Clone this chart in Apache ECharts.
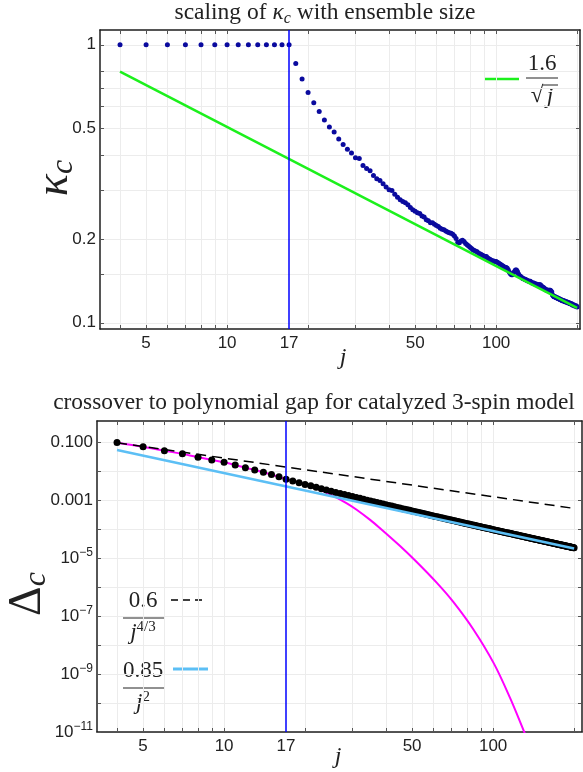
<!DOCTYPE html>
<html>
<head>
<meta charset="utf-8">
<script src="https://cdn.jsdelivr.net/npm/echarts@6/dist/echarts.min.js"></script>
<style>
  html, body { margin: 0; padding: 0; background: #ffffff; }
  #chart { width: 583px; height: 772px; }
</style>
</head>
<body>
<div id="chart"></div>
<script>
// Ensemble sizes run over integers j = 4 ... 200
const J_FIRST = 4;

// Critical coupling kappa_c for each ensemble size (j = 4 ... 200)
const kappaC = [
  1, 1, 1, 1, 1, 1, 1, 1, 1, 1, 1, 1, 1, 1,
  0.856, 0.753, 0.674, 0.618, 0.575, 0.536, 0.506, 0.486, 0.458, 0.438,
  0.421, 0.408, 0.392, 0.390, 0.368, 0.359, 0.352, 0.339, 0.330, 0.325,
  0.316, 0.308, 0.301, 0.299, 0.290, 0.283, 0.277, 0.273, 0.270, 0.266,
  0.260, 0.255, 0.252, 0.249, 0.247, 0.242, 0.240, 0.235, 0.233, 0.229,
  0.229, 0.226, 0.224, 0.222, 0.219, 0.217, 0.216, 0.214, 0.212, 0.211,
  0.210, 0.208, 0.205, 0.201, 0.195, 0.194, 0.197, 0.198, 0.196, 0.193,
  0.191, 0.189, 0.187, 0.185, 0.183, 0.182, 0.181, 0.180, 0.178, 0.177,
  0.176, 0.175, 0.174, 0.173, 0.173, 0.171, 0.170, 0.169, 0.168, 0.167,
  0.167, 0.166, 0.166, 0.165, 0.164, 0.163, 0.162, 0.161, 0.160, 0.159,
  0.158, 0.158, 0.157, 0.155, 0.152, 0.150, 0.149, 0.149, 0.151, 0.153,
  0.155, 0.155, 0.153, 0.150, 0.148, 0.147, 0.146, 0.145, 0.144, 0.144,
  0.143, 0.143, 0.142, 0.142, 0.141, 0.141, 0.141, 0.140, 0.139, 0.139,
  0.139, 0.138, 0.138, 0.138, 0.137, 0.137, 0.137, 0.137, 0.137, 0.136,
  0.135, 0.134, 0.134, 0.133, 0.132, 0.132, 0.131, 0.131, 0.131, 0.131,
  0.131, 0.131, 0.130, 0.129, 0.126, 0.125, 0.124, 0.124, 0.124, 0.123,
  0.123, 0.123, 0.122, 0.122, 0.122, 0.121, 0.121, 0.121, 0.120, 0.120,
  0.120, 0.120, 0.119, 0.119, 0.119, 0.119, 0.118, 0.118, 0.118, 0.118,
  0.117, 0.117, 0.117, 0.117, 0.116, 0.116, 0.116, 0.116, 0.115, 0.115,
  0.115, 0.115, 0.114
];

// Power-law guide 1.6/sqrt(j), end points
const kappaFit = [[4, 0.8], [200, 0.1131]];

// Gap Delta_c for each ensemble size (j = 4 ... 200)
const gapC = [
  0.097, 0.069, 0.050, 0.039, 0.030, 0.024, 0.020, 0.016, 0.013, 0.0108,
  0.0091, 0.0076, 0.0063, 0.0052, 0.0045, 0.0039, 0.00345, 0.0031, 0.00275, 0.00245,
  0.0022, 0.0020,
  1.83e-3, 1.67e-3, 1.54e-3, 1.42e-3, 1.32e-3, 1.22e-3, 1.14e-3, 1.06e-3, 9.90e-4, 9.27e-4,
  8.70e-4, 8.18e-4, 7.71e-4, 7.27e-4, 6.88e-4, 6.51e-4, 6.17e-4, 5.85e-4, 5.56e-4, 5.29e-4,
  5.04e-4, 4.81e-4, 4.59e-4, 4.39e-4, 4.20e-4, 4.02e-4, 3.85e-4, 3.70e-4, 3.55e-4, 3.41e-4,
  3.28e-4, 3.16e-4, 3.04e-4, 2.93e-4, 2.82e-4, 2.72e-4, 2.63e-4, 2.54e-4, 2.46e-4, 2.38e-4,
  2.30e-4, 2.23e-4, 2.16e-4, 2.09e-4, 2.03e-4, 1.97e-4, 1.91e-4, 1.85e-4, 1.80e-4, 1.75e-4,
  1.70e-4, 1.65e-4, 1.61e-4, 1.56e-4, 1.52e-4, 1.48e-4, 1.45e-4, 1.41e-4, 1.37e-4, 1.34e-4,
  1.31e-4, 1.27e-4, 1.24e-4, 1.21e-4, 1.19e-4, 1.16e-4, 1.13e-4, 1.11e-4, 1.08e-4, 1.06e-4,
  1.035e-4, 1.013e-4, 9.91e-5, 9.70e-5, 9.50e-5, 9.30e-5, 9.11e-5, 8.93e-5, 8.75e-5, 8.57e-5,
  8.40e-5, 8.24e-5, 8.08e-5, 7.93e-5, 7.78e-5, 7.63e-5, 7.49e-5, 7.35e-5, 7.22e-5, 7.08e-5,
  6.96e-5, 6.83e-5, 6.71e-5, 6.60e-5, 6.48e-5, 6.37e-5, 6.26e-5, 6.16e-5, 6.05e-5, 5.95e-5,
  5.85e-5, 5.76e-5, 5.66e-5, 5.57e-5, 5.48e-5, 5.40e-5, 5.31e-5, 5.23e-5, 5.15e-5, 5.07e-5,
  4.99e-5, 4.92e-5, 4.84e-5, 4.77e-5, 4.70e-5, 4.63e-5, 4.56e-5, 4.50e-5, 4.43e-5, 4.37e-5,
  4.31e-5, 4.25e-5, 4.19e-5, 4.13e-5, 4.07e-5, 4.02e-5, 3.96e-5, 3.91e-5, 3.86e-5, 3.81e-5,
  3.76e-5, 3.71e-5, 3.66e-5, 3.61e-5, 3.56e-5, 3.52e-5, 3.47e-5, 3.43e-5, 3.39e-5, 3.34e-5,
  3.30e-5, 3.26e-5, 3.22e-5, 3.18e-5, 3.14e-5, 3.11e-5, 3.07e-5, 3.03e-5, 3.00e-5, 2.96e-5,
  2.93e-5, 2.89e-5, 2.86e-5, 2.83e-5, 2.79e-5, 2.76e-5, 2.73e-5, 2.70e-5, 2.67e-5, 2.64e-5,
  2.61e-5, 2.58e-5, 2.56e-5, 2.53e-5, 2.50e-5, 2.47e-5, 2.45e-5, 2.42e-5, 2.40e-5, 2.37e-5,
  2.35e-5, 2.32e-5, 2.30e-5, 2.27e-5, 2.25e-5
];

// Exponential-regime curve through the small-j gaps
const gapExpCurve = [
  [4, 0.095], [5, 0.069], [6, 0.050], [7, 0.039], [8, 0.030], [10, 0.020],
  [12, 0.0129], [14, 0.0091], [17, 0.00525], [20, 0.00347], [22, 0.00254],
  [24.8, 0.00157], [28.6, 7.71e-4], [31.1, 4.62e-4], [34.9, 2.07e-4], [37.9, 1.09e-4],
  [45.1, 2.60e-5], [52, 7.29e-6], [61.8, 1.39e-6], [71, 3.13e-7], [84.5, 3.44e-8],
  [100.5, 2.37e-9], [115.5, 1.53e-10], [130, 1.10e-11], [134, 5.5e-12]
];

// Power-law guides 0.6/j^(4/3) and 0.85/j^2, end points
const gapFit43 = [[4, 0.0945], [200, 5.13e-4]];
const gapFit2 = [[4, 0.0531], [200, 2.125e-5]];

// Crossover ensemble size
const crossoverJ = 17;

// Axis ticks and labels
const jTicks = [4, 5, 6, 7, 8, 9, 10, 20, 30, 40, 50, 60, 70, 80, 90, 100, 200];
const jLabels = [5, 10, 17, 50, 100];
const kappaTicks = [0.1, 0.15, 0.2, 0.3, 0.4, 0.5, 0.6, 0.7, 0.8, 1];
const kappaLabels = [0.1, 0.2, 0.5, 1];
const gapTicks = [1e-11, 1e-10, 1e-9, 1e-8, 1e-7, 1e-6, 1e-5, 1e-4, 1e-3, 1e-2, 1e-1];
const gapLabels = [1e-11, 1e-9, 1e-7, 1e-5, 1e-3, 1e-1];

const SERIF = '"Liberation Serif", "Times New Roman", serif';
const SANS = '"Liberation Sans", Arial, Helvetica, sans-serif';
const FRAME = '#1e1e1e';
const GRID_LINE = '#ececec';
const TICK = '#555555';
const TEXT = '#222222';
const NAVY = '#0a0a9e';
const GREEN = '#1cf01c';
const BLUE = '#0000ff';
const MAGENTA = '#ff00ff';
const SKY = '#5cbff5';

function nearest(list, v) {
  let best = list[0];
  for (const x of list) if (Math.abs(Math.log(x / v)) < Math.abs(Math.log(best / v))) best = x;
  return best;
}

function jLabel(v) { return String(nearest(jLabels, v)); }
function kappaLabel(v) { return String(nearest(kappaLabels, v)); }
function gapLabel(v) {
  const e = Math.round(Math.log10(nearest(gapLabels, v)));
  if (e === -1) return '0.100';
  if (e === -3) return '0.001';
  return '{b|10}{s|\u2212' + (-e) + '}';
}

const labelText = { color: TEXT, fontSize: 17, fontFamily: SANS };

function frameAxis(extra) {
  return Object.assign({
    type: 'log',
    logBase: 10,
    axisLine: { show: true, onZero: false, lineStyle: { color: FRAME, width: 1.5 } },
    axisTick: { show: true, inside: true, length: 4, lineStyle: { color: TICK, width: 1 } },
    minorTick: { show: false },
    minorSplitLine: { show: false },
    splitArea: { show: false },
    axisLabel: { show: false },
    splitLine: { show: false }
  }, extra);
}

function jAxes(gridIndex, min, max) {
  return [
    frameAxis({
      gridIndex, min, max, position: 'bottom',
      axisTick: { show: true, inside: true, length: 4, customValues: jTicks, lineStyle: { color: TICK } },
      axisLabel: Object.assign({ show: true, customValues: jLabels, margin: 6, formatter: jLabel }, labelText),
      splitLine: { show: true, lineStyle: { color: GRID_LINE, width: 1 } }
    }),
    frameAxis({
      gridIndex, min, max, position: 'top',
      axisTick: { show: true, inside: true, length: 4, customValues: jTicks, lineStyle: { color: TICK } }
    })
  ];
}

const chart = echarts.init(document.getElementById('chart'), null, { renderer: 'canvas' });

const option = {
  animation: false,
  backgroundColor: '#ffffff',
  grid: [
    { left: 100, top: 30, width: 480, height: 299, outerBoundsMode: 'none', containLabel: false },
    { left: 97, top: 421, width: 485, height: 311, outerBoundsMode: 'none', containLabel: false }
  ],
  xAxis: [
    ...jAxes(0, 3.37, 205),
    ...jAxes(1, 3.37, 214)
  ],
  yAxis: [
    frameAxis({
      gridIndex: 0, min: 0.095, max: 1.13, position: 'left',
      axisTick: { show: true, inside: true, length: 4, customValues: kappaTicks, lineStyle: { color: TICK } },
      axisLabel: Object.assign({ show: true, customValues: kappaLabels, margin: 4, formatter: kappaLabel }, labelText),
      splitLine: { show: true, lineStyle: { color: GRID_LINE, width: 1 } }
    }),
    frameAxis({
      gridIndex: 0, min: 0.095, max: 1.13, position: 'right',
      axisTick: { show: true, inside: true, length: 4, customValues: kappaLabels, lineStyle: { color: TICK } }
    }),
    frameAxis({
      gridIndex: 1, min: 1e-11, max: 0.53, position: 'left',
      axisTick: { show: true, inside: true, length: 4, customValues: gapTicks, lineStyle: { color: TICK } },
      axisLabel: Object.assign({
        show: true, customValues: gapLabels, margin: 4, formatter: gapLabel,
        rich: {
          b: { fontSize: 17, fontFamily: SANS, color: TEXT, lineHeight: 22 },
          s: { fontSize: 12, fontFamily: SANS, color: TEXT, verticalAlign: 'top', lineHeight: 12 }
        }
      }, labelText),
      splitLine: { show: true, lineStyle: { color: GRID_LINE, width: 1 } }
    }),
    frameAxis({
      gridIndex: 1, min: 1e-11, max: 0.53, position: 'right',
      axisTick: { show: true, inside: true, length: 4, customValues: gapTicks, lineStyle: { color: TICK } }
    })
  ],
  series: [
    // upper panel
    {
      type: 'line', xAxisIndex: 0, yAxisIndex: 0, data: [], z: 1, silent: true,
      markLine: {
        silent: true, symbol: 'none', label: { show: false },
        lineStyle: { color: BLUE, width: 1.5, type: 'solid' },
        data: [{ xAxis: crossoverJ }]
      }
    },
    {
      type: 'scatter', xAxisIndex: 0, yAxisIndex: 0, z: 2,
      symbol: 'circle', symbolSize: 5,
      itemStyle: { color: NAVY, opacity: 1 },
      emphasis: { disabled: true },
      data: kappaC.map((v, i) => [J_FIRST + i, v])
    },
    {
      type: 'line', xAxisIndex: 0, yAxisIndex: 0, z: 3,
      showSymbol: false, symbol: 'none',
      lineStyle: { color: GREEN, width: 2.5 },
      data: kappaFit
    },
    // lower panel
    {
      type: 'line', xAxisIndex: 2, yAxisIndex: 2, z: 1,
      showSymbol: false, symbol: 'none', smooth: 0.35,
      lineStyle: { color: MAGENTA, width: 2 },
      data: gapExpCurve,
      markLine: {
        silent: true, symbol: 'none', label: { show: false },
        lineStyle: { color: BLUE, width: 1.5, type: 'solid' },
        data: [{ xAxis: crossoverJ }]
      }
    },
    {
      type: 'scatter', xAxisIndex: 2, yAxisIndex: 2, z: 2,
      symbol: 'circle', symbolSize: 7,
      itemStyle: { color: '#000000', opacity: 1 },
      emphasis: { disabled: true },
      data: gapC.map((v, i) => [J_FIRST + i, v])
    },
    {
      type: 'line', xAxisIndex: 2, yAxisIndex: 2, z: 3,
      showSymbol: false, symbol: 'none',
      lineStyle: { color: SKY, width: 2.5 },
      data: gapFit2
    },
    {
      type: 'line', xAxisIndex: 2, yAxisIndex: 2, z: 3,
      showSymbol: false, symbol: 'none',
      lineStyle: { color: '#000000', width: 1.5, type: [10, 6] },
      data: gapFit43
    }
  ],
  graphic: [
    // titles
    {
      type: 'text', x: 325, y: 13, silent: true,
      style: {
        text: '{r|scaling of }{k|\u03ba}{s|c}{r| with ensemble size}',
        align: 'center', verticalAlign: 'middle',
        rich: {
          r: { fontFamily: SERIF, fontSize: 23.5, fill: TEXT, lineHeight: 28 },
          k: { fontFamily: SERIF, fontSize: 23.5, fontStyle: 'italic', fill: TEXT, lineHeight: 28 },
          s: { fontFamily: SERIF, fontSize: 16, fontStyle: 'italic', fill: TEXT, verticalAlign: 'bottom', lineHeight: 16 }
        }
      }
    },
    {
      type: 'text', x: 314, y: 403, silent: true,
      style: {
        text: 'crossover to polynomial gap for catalyzed 3-spin model',
        font: '23.4px ' + SERIF, fill: TEXT, align: 'center', verticalAlign: 'middle'
      }
    },
    // axis names
    {
      type: 'text', x: 343, y: 358, silent: true,
      style: { text: 'j', font: 'italic 24px ' + SERIF, fill: TEXT, align: 'center', verticalAlign: 'middle' }
    },
    {
      type: 'text', x: 338, y: 757, silent: true,
      style: { text: 'j', font: 'italic 24px ' + SERIF, fill: TEXT, align: 'center', verticalAlign: 'middle' }
    },
    {
      type: 'text', x: 55, y: 178, rotation: Math.PI / 2, silent: true,
      style: {
        text: '{k|\u03ba}{s|c}', align: 'center', verticalAlign: 'middle',
        rich: {
          k: { fontFamily: SERIF, fontSize: 46, fontStyle: 'italic', fill: TEXT, lineHeight: 50 },
          s: { fontFamily: SERIF, fontSize: 32, fontStyle: 'italic', fill: TEXT, verticalAlign: 'bottom', lineHeight: 32 }
        }
      }
    },
    {
      type: 'text', x: 28, y: 594, rotation: Math.PI / 2, silent: true,
      style: {
        text: '{k|\u0394}{s|c}', align: 'center', verticalAlign: 'middle',
        rich: {
          k: { fontFamily: SERIF, fontSize: 46, fill: TEXT, lineHeight: 50 },
          s: { fontFamily: SERIF, fontSize: 32, fontStyle: 'italic', fill: TEXT, verticalAlign: 'bottom', lineHeight: 32 }
        }
      }
    },
    // legend of the upper panel: 1.6 / sqrt(j)
    { type: 'line', silent: true, shape: { x1: 484, y1: 79, x2: 519, y2: 79 }, style: { stroke: GREEN, lineWidth: 2.5 } },
    {
      type: 'text', x: 542, y: 64, silent: true,
      style: { text: '1.6', font: '23px ' + SERIF, fill: TEXT, align: 'center', verticalAlign: 'middle' }
    },
    { type: 'line', silent: true, shape: { x1: 526, y1: 78, x2: 558, y2: 78 }, style: { stroke: TEXT, lineWidth: 1 } },
    {
      type: 'text', x: 537, y: 96, silent: true,
      style: { text: '\u221a', font: '23px ' + SERIF, fill: TEXT, align: 'center', verticalAlign: 'middle' }
    },
    { type: 'line', silent: true, shape: { x1: 543, y1: 85, x2: 558, y2: 85 }, style: { stroke: TEXT, lineWidth: 1 } },
    {
      type: 'text', x: 550, y: 97, silent: true,
      style: { text: 'j', font: 'italic 23px ' + SERIF, fill: TEXT, align: 'center', verticalAlign: 'middle' }
    },
    // legend of the lower panel: 0.6 / j^(4/3)
    {
      type: 'text', x: 143, y: 601, silent: true,
      style: { text: '0.6', font: '23px ' + SERIF, fill: TEXT, align: 'center', verticalAlign: 'middle' }
    },
    { type: 'line', silent: true, shape: { x1: 123, y1: 618, x2: 164, y2: 618 }, style: { stroke: TEXT, lineWidth: 1 } },
    {
      type: 'text', x: 143, y: 633, silent: true,
      style: {
        text: '{j|j}{p|4/3}', align: 'center', verticalAlign: 'middle',
        rich: {
          j: { fontFamily: SERIF, fontSize: 23, fontStyle: 'italic', fill: TEXT, lineHeight: 26 },
          p: { fontFamily: SERIF, fontSize: 15, fill: TEXT, verticalAlign: 'top', lineHeight: 15 }
        }
      }
    },
    { type: 'line', silent: true, shape: { x1: 171, y1: 600, x2: 207, y2: 600 }, style: { stroke: '#000000', lineWidth: 1.5, lineDash: [7, 5] } },
    // legend of the lower panel: 0.85 / j^2
    {
      type: 'text', x: 143, y: 671, silent: true,
      style: { text: '0.85', font: '23px ' + SERIF, fill: TEXT, align: 'center', verticalAlign: 'middle' }
    },
    { type: 'line', silent: true, shape: { x1: 123, y1: 688, x2: 164, y2: 688 }, style: { stroke: TEXT, lineWidth: 1 } },
    {
      type: 'text', x: 143, y: 703, silent: true,
      style: {
        text: '{j|j}{p|2}', align: 'center', verticalAlign: 'middle',
        rich: {
          j: { fontFamily: SERIF, fontSize: 23, fontStyle: 'italic', fill: TEXT, lineHeight: 26 },
          p: { fontFamily: SERIF, fontSize: 15, fill: TEXT, verticalAlign: 'top', lineHeight: 15 }
        }
      }
    },
    { type: 'line', silent: true, shape: { x1: 173, y1: 669, x2: 208, y2: 669 }, style: { stroke: SKY, lineWidth: 3 } }
  ]
};

chart.setOption(option);
</script>
</body>
</html>
